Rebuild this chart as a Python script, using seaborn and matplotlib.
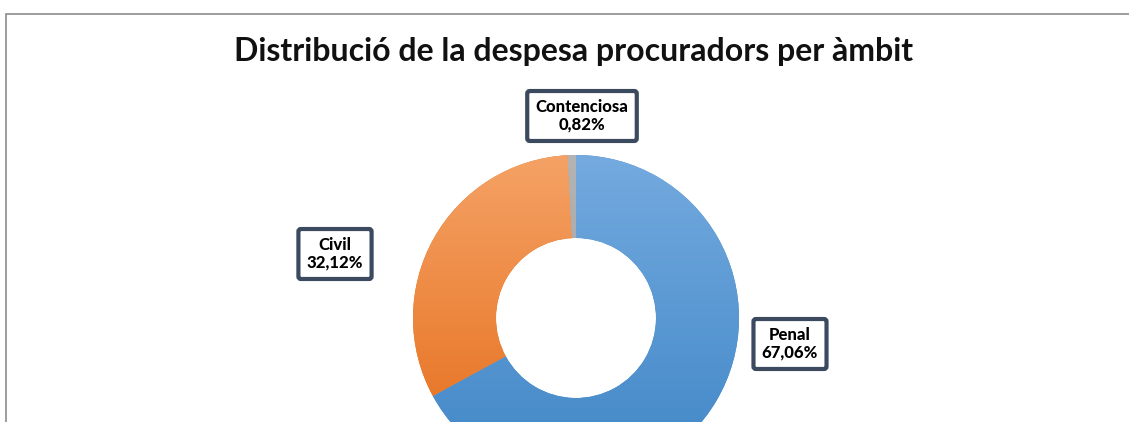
import numpy as np
import matplotlib
matplotlib.use("Agg")
import matplotlib.pyplot as plt
from matplotlib.colors import LinearSegmentedColormap
from matplotlib.patches import Rectangle
import seaborn as sns

# dades del gràfic
categories = ["Penal", "Civil", "Contenciosa"]
percentages = [67.06, 32.12, 0.82]
title = "Distribució de la despesa procuradors per àmbit"

sns.set_theme(style="white")
plt.rcParams['font.family'] = ['Lato', 'DejaVu Sans']

# colors estil Excel (clar a dalt, fosc a baix)
grads = [("#74AADF", "#3F86C6"), ("#F5A266", "#E46B17"), ("#B4B4B4", "#9A9A9A")]

fig = plt.figure(figsize=(11.29, 4.22), dpi=100)
ax = fig.add_axes([0, 0, 1, 1])

cx, cy, r = 576, 104, 163
wedges, _ = ax.pie(percentages, colors=[g[1] for g in grads], startangle=90,
                   counterclock=False, radius=r, center=(cx, cy),
                   wedgeprops=dict(width=83, edgecolor='none'))

# degradat vertical dins de cada porció
grad = np.linspace(0, 1, 256).reshape(-1, 1)
for w, (top, bottom) in zip(wedges, grads):
    cmap = LinearSegmentedColormap.from_list("g", [bottom, top])
    im = ax.imshow(grad, extent=(cx - r, cx + r, cy - r, cy + r), cmap=cmap,
                   origin='lower', aspect='auto', zorder=2)
    im.set_clip_path(w)

ax.set_xlim(0, 1129)
ax.set_ylim(0, 422)
ax.set_aspect('equal')
ax.axis('off')

# vora del gràfic
fig.patches.append(Rectangle((6 / 1129, -0.1), 1.2, (422 - 14) / 422 + 0.1,
                             transform=fig.transFigure, fill=False,
                             ec='#8C8C8C', lw=1.2))

ax.text(574, 422 - 52, title, ha='center', va='center', fontsize=23,
        fontweight='bold', color='#111111')

# etiquetes de dades
label_pos = [(790, 422 - 344), (335, 422 - 254), (582, 422 - 116)]
for name, pct, (x, y) in zip(categories, percentages, label_pos):
    txt = f"{name}\n{pct:.2f}%".replace(".", ",")
    ax.text(x, y, txt, ha='center', va='center', fontsize=12,
            fontweight='black', linespacing=1.1, color='black', zorder=5,
            bbox=dict(boxstyle='round,pad=0.5,rounding_size=0.15',
                      fc='white', ec='#3B4A5E', lw=3))

fig.savefig("out.png", dpi=100)
